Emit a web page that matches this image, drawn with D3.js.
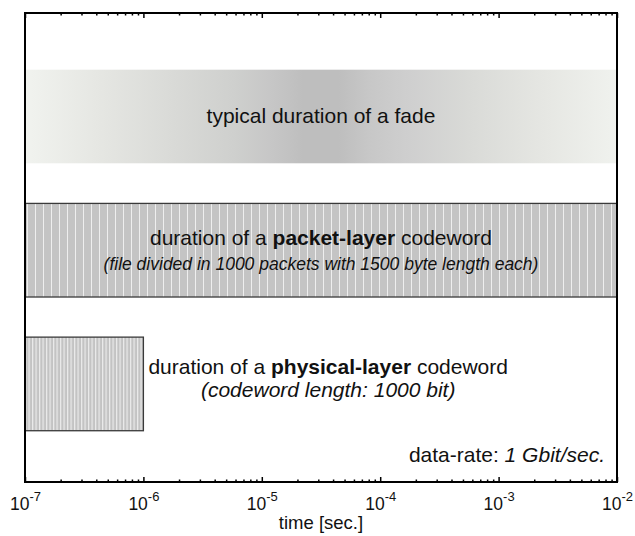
<!DOCTYPE html>
<html>
<head>
<meta charset="utf-8">
<script src="https://cdn.jsdelivr.net/npm/d3@7"></script>
<style>
  body { margin: 0; background: #fff; }
  svg { font-family: Arial, "Liberation Sans", sans-serif; }
</style>
</head>
<body>
<div id="chart"></div>
<script>
// decades shown on the time axis (10^exp seconds)
const tickExponents = [-7, -6, -5, -4, -3, -2];

// the three lanes, top to bottom
const laneNames = ["fade", "packet", "physical"];
const laneStart = [1e-7, 1e-7, 1e-7];
// packet: 1000 * 1500 byte * 8 / 1 Gbit/s = 12 ms, physical: 1000 bit / 1 Gbit/s = 1 us
const laneEnd = [1e-2, 1.2e-2, 1e-6];

// grey level of the fade band along the axis
const fadeOffsets = [0, 0.12, 0.25, 0.35, 0.42, 0.47, 0.53, 0.58, 0.65, 0.75, 0.88, 1];
const fadeColors = ["#f1f3ef", "#e6e7e3", "#d9dad7", "#cfd0ce", "#c6c6c6", "#bebebe",
                    "#bebebe", "#c7c7c7", "#cfcfcf", "#d9dad7", "#e6e7e3", "#f0f2ee"];

let margin = {top: 13, right: 18, bottom: 54, left: 25},
    width = 635 - margin.left - margin.right,
    height = 536 - margin.top - margin.bottom;

let svg = d3.select("#chart")
    .append("svg")
    .attr("width", width + margin.left + margin.right)
    .attr("height", height + margin.top + margin.bottom);

let canvas = svg.append("g")
    .attr("transform", "translate(" + margin.left + "," + margin.top + ")");

let x = d3.scaleLog()
    .domain([1e-7, 1e-2])
    .range([0, width])
    .clamp(true);

let y = d3.scaleBand()
    .domain(laneNames)
    .range([0, height - 1])
    .paddingInner(0.3)
    .paddingOuter(0.4)
    .align(0.53);

let defs = svg.append("defs");

let grad = defs.append("linearGradient")
    .attr("id", "fadeGrad")
    .attr("x1", "0%").attr("x2", "100%")
    .attr("y1", "0%").attr("y2", "0%");
grad.selectAll("stop")
    .data(fadeOffsets)
    .enter().append("stop")
    .attr("offset", d => d)
    .attr("stop-color", (d, i) => fadeColors[i]);

function hatch(id, step, offset, lineW, bg, fg) {
  let p = defs.append("pattern")
      .attr("id", id)
      .attr("patternUnits", "userSpaceOnUse")
      .attr("x", offset)
      .attr("width", step)
      .attr("height", 10);
  p.append("rect").attr("width", step).attr("height", 10).attr("fill", bg);
  p.append("rect").attr("width", lineW).attr("height", 10).attr("fill", fg);
}
hatch("hatchWide", 8, 2, 1, "#c4c4c4", "#eeeeee");
hatch("hatchNarrow", 3.5, 0, 1.2, "#c3c3c3", "#ebebeb");

let lanes = laneNames.map(function(n, i) {
  return {name: n, x0: laneStart[i], x1: laneEnd[i]};
});

let fills = {fade: "url(#fadeGrad)", packet: "url(#hatchWide)", physical: "url(#hatchNarrow)"};
let strokes = {fade: "none", packet: "#3a3a3a", physical: "#3a3a3a"};

canvas.append("g").attr("class", "lanes")
  .selectAll("rect")
  .data(lanes)
  .enter().append("rect")
    .attr("x", d => x(d.x0))
    .attr("width", d => x(d.x1) - x(d.x0))
    .attr("y", d => y(d.name))
    .attr("height", y.bandwidth())
    .attr("fill", d => fills[d.name])
    .attr("stroke", d => strokes[d.name])
    .attr("stroke-width", 1.3);

let textLayer = canvas.append("g")
    .attr("font-size", "21px")
    .attr("fill", "#111");

let yc = name => y(name) + y.bandwidth() / 2;

textLayer.append("text")
    .attr("x", width / 2)
    .attr("y", yc("fade") + 7)
    .attr("text-anchor", "middle")
    .text("typical duration of a fade");

let p1 = textLayer.append("text")
    .attr("x", width / 2)
    .attr("y", yc("packet") - 5.5)
    .attr("text-anchor", "middle");
p1.append("tspan").text("duration of a ");
p1.append("tspan").attr("font-weight", "bold").text("packet-layer");
p1.append("tspan").text(" codeword");

textLayer.append("text")
    .attr("x", width / 2)
    .attr("y", yc("packet") + 19.5)
    .attr("text-anchor", "middle")
    .attr("font-style", "italic")
    .attr("font-size", "17.5px")
    .text("(file divided in 1000 packets with 1500 byte length each)");

let ph = textLayer.append("text")
    .attr("x", x(laneEnd[2]) + 5)
    .attr("y", yc("physical") - 9.5);
ph.append("tspan").text("duration of a ");
ph.append("tspan").attr("font-weight", "bold").text("physical-layer");
ph.append("tspan").text(" codeword");
let phW = ph.node().getComputedTextLength();

textLayer.append("text")
    .attr("x", x(laneEnd[2]) + 5 + phW / 2)
    .attr("y", yc("physical") + 13.5)
    .attr("text-anchor", "middle")
    .attr("font-style", "italic")
    .text("(codeword length: 1000 bit)");

let dr = textLayer.append("text")
    .attr("x", width - 12)
    .attr("y", height - 20)
    .attr("text-anchor", "end");
dr.append("tspan").text("data-rate: ");
dr.append("tspan").attr("font-style", "italic").text("1 Gbit/sec.");

// axes: major and minor ticks pointing inward on top and bottom
let majors = tickExponents.map(e => Math.pow(10, e));
let minors = x.ticks().filter(d => majors.indexOf(d) < 0 && Math.abs(Math.log10(d) % 1) > 1e-9);

let axesLayer = canvas.append("g").attr("class", "axes-layer");

function tickAxis(axisFn, vals, size, yPos) {
  let g = axesLayer.append("g")
      .attr("transform", "translate(0," + yPos + ")")
      .call(axisFn(x).tickValues(vals).tickSizeInner(size).tickSizeOuter(0).tickFormat(""));
  g.select(".domain").remove();
  g.selectAll(".tick line").attr("stroke", "#000").attr("stroke-width", 1.5);
  return g;
}
tickAxis(d3.axisBottom, minors, -2.5, height);
tickAxis(d3.axisTop, minors, -2.5, 0);
tickAxis(d3.axisTop, majors, -5, 0);

let gBottom = axesLayer.append("g")
    .attr("transform", "translate(0," + height + ")")
    .call(d3.axisBottom(x).tickValues(majors).tickSizeInner(-5).tickSizeOuter(0).tickFormat(() => "10"));
gBottom.select(".domain").remove();
gBottom.selectAll(".tick line").attr("stroke", "#000").attr("stroke-width", 1.5);
gBottom.selectAll(".tick text")
    .attr("y", 28)
    .attr("dy", 0)
    .attr("fill", "#111")
    .attr("font-size", "17.5px")
    .attr("font-family", "Arial, 'Liberation Sans', sans-serif")
    .call(function(t) {
      t.append("tspan")
        .attr("dy", -9)
        .attr("font-size", "13px")
        .text(d => Math.round(Math.log10(d)));
    });

axesLayer.append("rect")
    .attr("width", width)
    .attr("height", height)
    .attr("fill", "none")
    .attr("stroke", "#000")
    .attr("stroke-width", 2);

axesLayer.append("text")
    .attr("x", width / 2)
    .attr("y", height + 47)
    .attr("text-anchor", "middle")
    .attr("font-size", "18.5px")
    .attr("fill", "#111")
    .text("time [sec.]");
</script>
</body>
</html>
